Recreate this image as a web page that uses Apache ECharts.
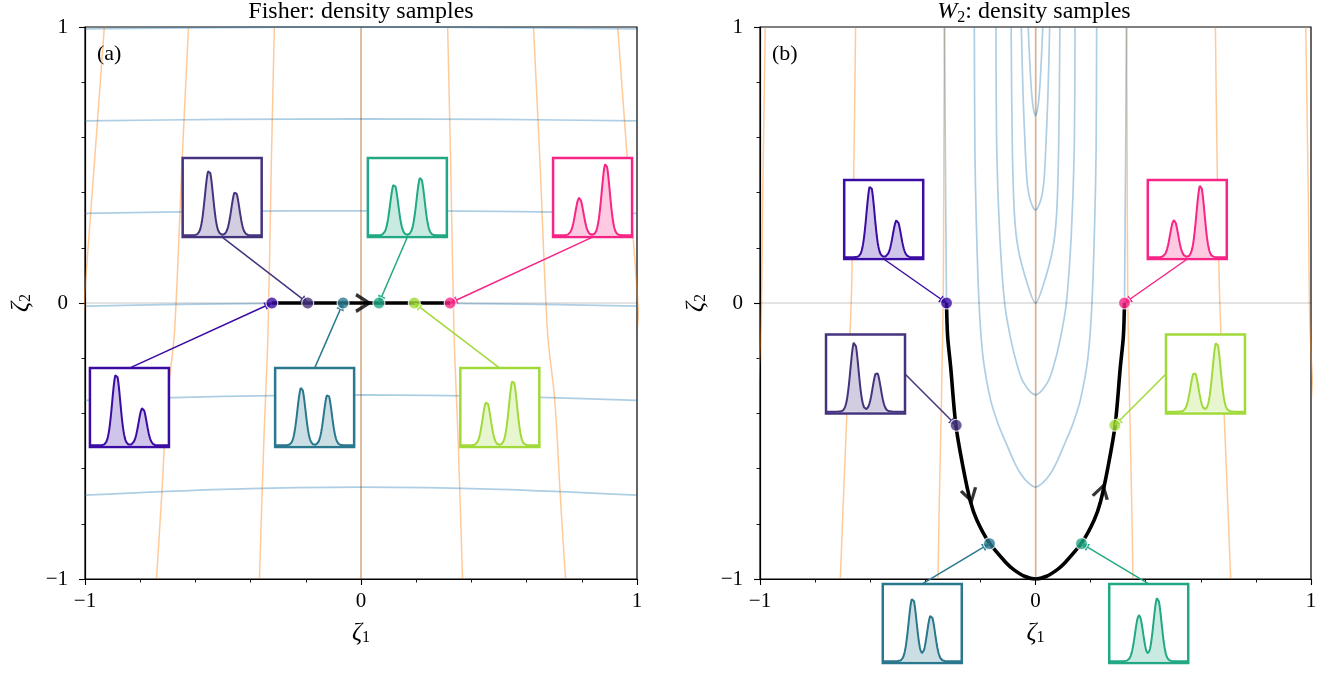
<!DOCTYPE html>
<html><head><meta charset="utf-8">
<script src="https://cdn.jsdelivr.net/npm/echarts@6/dist/echarts.min.js"></script>
<style>html,body{margin:0;padding:0;background:#fff}#c{width:1336px;height:673px}</style>
</head><body><div id="c"></div>
<script>
// ---------------- data ----------------
const tickLabels = ['\u22121', '0', '1'];
const sampleColors = ['#3a0ca3', '#46337e', '#2a788e', '#22a884', '#a0da39', '#f72585'];

// Fisher panel (a)
const fisherPointsX = [-0.323, -0.193, -0.065, 0.065, 0.193, 0.323];
const fisherPointsY = [0, 0, 0, 0, 0, 0];
const fisherPath = [[-0.323, 0], [0.323, 0]];
const fisherChevron = [[0.010, 0]];
const fisherOrange = [
  [[-0.930, 1], [-0.965, 0.52], [-1.0, 0.047], [-1.03, -0.4]],
  [[-0.625, 1], [-0.648, 0.52], [-0.676, -0.109], [-0.702, -0.351], [-0.722, -0.696], [-0.741, -1]],
  [[-0.314, 1], [-0.325, 0.5], [-0.337, -0.109], [-0.352, -0.5], [-0.368, -1]],
  [[0, 1], [0, -1]],
  [[0.314, 1], [0.325, 0.5], [0.337, -0.109], [0.352, -0.5], [0.368, -1]],
  [[0.625, 1], [0.648, 0.52], [0.676, -0.109], [0.702, -0.351], [0.722, -0.696], [0.741, -1]],
  [[0.930, 1], [0.965, 0.52], [1.0, 0.047], [1.03, -0.4]]
];
const fisherBlue = [
  [[-1, 0.993], [-0.5, 0.998], [0, 1.0], [0.5, 0.998], [1, 0.993]],
  [[-1, 0.660], [-0.5, 0.665], [0, 0.667], [0.5, 0.665], [1, 0.660]],
  [[-1, 0.325], [-0.5, 0.332], [0, 0.334], [0.5, 0.332], [1, 0.325]],
  [[-1, -0.011], [-0.5, -0.003], [0, 0.0], [0.5, -0.003], [1, -0.011]],
  [[-1, -0.353], [-0.5, -0.338], [0, -0.333], [0.5, -0.338], [1, -0.353]],
  [[-1, -0.696], [-0.5, -0.675], [0, -0.667], [0.5, -0.675], [1, -0.696]]
];
const fisherBoxX = [-0.839, -0.503, -0.168, 0.168, 0.503, 0.839];
const fisherBoxY = [-0.379, 0.382, -0.379, 0.382, -0.379, 0.382];
const fisherArrowFrom = ['top', 'bottom', 'top', 'bottom', 'top', 'bottom'];
const fisherInsetW = [0.657, 0.60, 0.53, 0.47, 0.40, 0.343];
const fisherInsetMeanA = [0.333, 0.333, 0.333, 0.333, 0.333, 0.333];
const fisherInsetMeanB = [0.667, 0.667, 0.667, 0.667, 0.667, 0.667];

// W2 panel (b)
const w2PointsX = [-0.323, -0.288, -0.167, 0.167, 0.288, 0.323];
const w2PointsY = [0, -0.443, -0.872, -0.872, -0.443, 0];
const w2Path = [[-0.323, 0], [-0.319, -0.12], [-0.308, -0.231], [-0.289, -0.443], [-0.262, -0.60],
  [-0.236, -0.72], [-0.213, -0.786], [-0.169, -0.867], [-0.105, -0.943], [-0.078, -0.967], [-0.04, -0.99],
  [0, -1], [0.04, -0.99], [0.078, -0.967], [0.105, -0.943], [0.169, -0.867], [0.213, -0.786], [0.236, -0.72],
  [0.262, -0.60], [0.289, -0.443], [0.308, -0.231], [0.319, -0.12], [0.323, 0]];
const w2Chevrons = [[-0.237, -0.70], [0.241, -0.68]];
const w2ChevronRotate = [195, -15];
const w2Orange = [
  [[-0.981, 1], [-0.99, 0.4], [-0.997, -0.109], [-1.02, -0.5]],
  [[-0.653, 1], [-0.66, 0.45], [-0.669, 0], [-0.693, -0.603], [-0.7085, -1]],
  [[-0.331, 1], [-0.333, 0.5], [-0.335, 0], [-0.349, -0.714], [-0.354, -1]],
  [[0, 1], [0, -1]],
  [[0.331, 1], [0.333, 0.5], [0.335, 0], [0.349, -0.714], [0.354, -1]],
  [[0.653, 1], [0.66, 0.45], [0.669, 0], [0.693, -0.603], [0.7085, -1]],
  [[0.981, 1], [0.99, 0.4], [0.997, -0.109], [1.02, -0.5]]
];
const w2Blue = [
  [[-0.0265, 1], [-0.018, 0.82], [-0.01, 0.72], [0, 0.68], [0.01, 0.72], [0.018, 0.82], [0.0265, 1]],
  [[-0.0515, 1], [-0.045, 0.75], [-0.037, 0.554], [-0.03, 0.434], [-0.018, 0.37], [0, 0.337],
   [0.018, 0.37], [0.03, 0.434], [0.037, 0.554], [0.045, 0.75], [0.0515, 1]],
  [[-0.0885, 1], [-0.084, 0.554], [-0.076, 0.313], [-0.062, 0.192], [-0.03, 0.071], [0, 0],
   [0.03, 0.071], [0.062, 0.192], [0.076, 0.313], [0.084, 0.554], [0.0885, 1]],
  [[-0.1435, 1], [-0.1405, 0.554], [-0.13, 0.25], [-0.112, 0], [-0.09, -0.13], [-0.065, -0.231], [-0.042, -0.291], [0, -0.333],
   [0.042, -0.291], [0.065, -0.231], [0.09, -0.13], [0.112, 0], [0.13, 0.25], [0.1405, 0.554], [0.1435, 1]],
  [[-0.222, 1], [-0.22, 0.554], [-0.215, 0.3], [-0.205, 0], [-0.19, -0.2], [-0.163, -0.351], [-0.135, -0.44], [-0.11, -0.5],
   [-0.08, -0.57], [-0.055, -0.617], [-0.028, -0.65], [0, -0.667], [0.028, -0.65], [0.055, -0.617], [0.08, -0.57],
   [0.11, -0.5], [0.135, -0.44], [0.163, -0.351], [0.19, -0.2], [0.205, 0], [0.215, 0.3], [0.22, 0.554], [0.222, 1]],
  [[-0.330, 1], [-0.327, 0.5], [-0.323, 0]],
  [[0.323, 0], [0.327, 0.5], [0.330, 1]]
];
const w2BoxX = [-0.551, -0.617, -0.411, 0.411, 0.617, 0.551];
const w2BoxY = [0.3025, -0.257, -1.161, -1.161, -0.257, 0.3025];
const w2ArrowFrom = ['bottom', 'right', 'top', 'top', 'left', 'bottom'];
const w2InsetW = [0.66, 0.64, 0.58, 0.42, 0.36, 0.34];
const w2InsetMeanA = [0.333, 0.36, 0.378, 0.378, 0.36, 0.333];
const w2InsetMeanB = [0.667, 0.641, 0.611, 0.611, 0.641, 0.667];
const insetSigma = 0.051;

// ---------------- layout ----------------
const SERIF = "'Liberation Serif', 'DejaVu Serif', serif";
const MAIN = [{left: 85, top: 27, width: 552, height: 552}, {left: 760, top: 27, width: 551, height: 552}];
const BOX = 79;
const BLUE = 'rgba(31,119,180,0.36)';
const ORANGE = 'rgba(255,127,14,0.42)';
const MARKER = 12;

function toPx(p, x, y) {
  const g = MAIN[p];
  return [g.left + (x + 1) / 2 * g.width, g.top + (1 - y) / 2 * g.height];
}
function fromPx(p, px, py) {
  const g = MAIN[p];
  return [(px - g.left) / g.width * 2 - 1, 1 - (py - g.top) / g.height * 2];
}
function alpha(hex, a) {
  const n = parseInt(hex.slice(1), 16);
  return 'rgba(' + (n >> 16 & 255) + ',' + (n >> 8 & 255) + ',' + (n & 255) + ',' + a + ')';
}

const grids = [], xAxes = [], yAxes = [], series = [];

function mainAxis(p, isX) {
  return {
    type: 'value', gridIndex: p, min: -1, max: 1, interval: 1,
    axisLine: {show: true, onZero: false, lineStyle: {color: '#000', width: 1.2}},
    axisTick: {show: true, length: 6, lineStyle: {color: '#000', width: 1.1}},
    minorTick: {show: true, splitNumber: 5, length: 3.5, lineStyle: {color: '#000', width: 0.9}},
    splitLine: {show: false}, minorSplitLine: {show: false},
    axisLabel: {
      formatter: v => tickLabels[Math.round(v) + 1], color: '#000',
      fontFamily: SERIF, fontSize: 21, margin: isX ? 12 : 17
    },
    name: isX ? '{z|\u03b6}{s|1}' : '{z|\u03b6}{s|2}',
    nameLocation: 'middle', nameGap: isX ? 41 : 51, nameRotate: isX ? 0 : 90,
    nameTextStyle: {color: '#000', fontFamily: SERIF, fontSize: 21,
      rich: {
        z: {fontStyle: 'italic', fontFamily: SERIF, fontSize: 25, lineHeight: 26, color: '#000'},
        s: {fontFamily: SERIF, fontSize: 16, lineHeight: 19, verticalAlign: 'bottom', color: '#000'}
      }}
  };
}

function addLines(p, list, color, width) {
  list.forEach(pts => series.push({
    type: 'line', xAxisIndex: p, yAxisIndex: p, data: pts, symbol: 'none', showSymbol: false,
    smooth: 0.3, silent: true, z: 1, lineStyle: {color: color, width: width}
  }));
}

const panels = [
  {px: fisherPointsX, py: fisherPointsY, path: fisherPath, orange: fisherOrange, blue: fisherBlue,
   bx: fisherBoxX, by: fisherBoxY, from: fisherArrowFrom, w: fisherInsetW, ma: fisherInsetMeanA, mb: fisherInsetMeanB,
   chev: fisherChevron, chevRot: [-90], chevSize: [20, 17]},
  {px: w2PointsX, py: w2PointsY, path: w2Path, orange: w2Orange, blue: w2Blue,
   bx: w2BoxX, by: w2BoxY, from: w2ArrowFrom, w: w2InsetW, ma: w2InsetMeanA, mb: w2InsetMeanB,
   chev: w2Chevrons, chevRot: w2ChevronRotate, chevSize: [18, 16]}
];

panels.forEach((P, p) => {
  grids.push(Object.assign({show: true, borderColor: '#000', borderWidth: 1.2, containLabel: false}, MAIN[p]));
  xAxes.push(mainAxis(p, true));
  yAxes.push(mainAxis(p, false));
});

panels.forEach((P, p) => {
  addLines(p, P.orange, ORANGE, 1.5);
  addLines(p, P.blue, BLUE, 1.7);
  // zero reference lines
  series.push({
    type: 'line', xAxisIndex: p, yAxisIndex: p, data: [[0, 0]], symbol: 'none', silent: true, z: 1,
    lineStyle: {opacity: 0},
    markLine: {silent: true, symbol: 'none', label: {show: false}, animation: false,
      lineStyle: {color: 'rgba(0,0,0,0.15)', width: 1.6, type: 'solid'},
      data: [{xAxis: 0}, {yAxis: 0}]}
  });
  // path
  series.push({
    type: 'line', xAxisIndex: p, yAxisIndex: p, data: P.path, symbol: 'none', smooth: 0.3, silent: true, z: 5,
    lineStyle: {color: '#000', width: 3.6}
  });
  // chevrons (open arrowheads on the path)
  series.push({
    type: 'scatter', xAxisIndex: p, yAxisIndex: p, silent: true, z: 5,
    symbol: 'path://M0,15 L8.3,0 L16.6,15 L13.8,16.4 L8.3,6 L2.8,16.4 Z', symbolSize: P.chevSize,
    data: P.chev.map((c, i) => ({value: c, symbolRotate: P.chevRot[i]})),
    itemStyle: {color: '#000'}
  });
  // arrows from boxes to sample points
  const arrowData = P.px.map((x, i) => {
    const c = toPx(p, P.bx[i], P.by[i]);
    let sx = c[0], sy = c[1];
    if (P.from[i] === 'top') sy -= BOX / 2;
    else if (P.from[i] === 'bottom') sy += BOX / 2;
    else if (P.from[i] === 'left') sx -= BOX / 2;
    else sx += BOX / 2;
    const e = toPx(p, x, P.py[i]);
    const dx = e[0] - sx, dy = e[1] - sy, L = Math.hypot(dx, dy), shrink = 3.5;
    const ex = e[0] - dx / L * shrink, ey = e[1] - dy / L * shrink;
    return {coords: [fromPx(p, sx, sy), fromPx(p, ex, ey)], lineStyle: {color: sampleColors[i]}};
  });
  series.push({
    type: 'lines', coordinateSystem: 'cartesian2d', xAxisIndex: p, yAxisIndex: p, clip: false,
    silent: true, z: 6, symbol: ['none', 'triangle'], symbolSize: 8,
    lineStyle: {width: 1.5, opacity: 1}, data: arrowData
  });
  // sample points
  series.push({
    type: 'scatter', xAxisIndex: p, yAxisIndex: p, silent: true, z: 7, symbolSize: MARKER,
    data: P.px.map((x, i) => ({value: [x, P.py[i]], itemStyle: {color: sampleColors[i]}})),
    itemStyle: {borderColor: '#fff', borderWidth: 1.2}
  });
});

// insets: mixture densities
const xs = [];
for (let i = 0; i <= 240; i++) xs.push(i / 240);
const yPxPerUnit = 72 / (0.657 / (insetSigma * Math.sqrt(2 * Math.PI)));
const insetYMin = -1.8 / yPxPerUnit, insetYMax = insetYMin + BOX / yPxPerUnit;
panels.forEach((P, p) => {
  P.bx.forEach((bx, i) => {
    const c = toPx(p, bx, P.by[i]);
    const gi = grids.length;
    grids.push({show: true, left: c[0] - BOX / 2, top: c[1] - BOX / 2, width: BOX, height: BOX,
      borderColor: sampleColors[i], borderWidth: 2.5, backgroundColor: '#fff', z: 10});
    xAxes.push({type: 'value', gridIndex: gi, min: 0, max: 1, show: false});
    yAxes.push({type: 'value', gridIndex: gi, min: insetYMin, max: insetYMax, show: false});
    const w = P.w[i], ma = P.ma[i], mb = P.mb[i], s = insetSigma;
    const norm = 1 / (s * Math.sqrt(2 * Math.PI));
    const dens = xs.map(x => [x,
      w * norm * Math.exp(-0.5 * ((x - ma) / s) ** 2) + (1 - w) * norm * Math.exp(-0.5 * ((x - mb) / s) ** 2)]);
    series.push({
      type: 'line', xAxisIndex: gi, yAxisIndex: gi, data: dens, symbol: 'none', silent: true, z: 11,
      lineStyle: {color: sampleColors[i], width: 2}, areaStyle: {color: alpha(sampleColors[i], 0.35)}
    });
  });
});

const titleRich = {
  i: {fontStyle: 'italic', fontFamily: SERIF, fontSize: 24, lineHeight: 28, fill: '#000'},
  s: {fontFamily: SERIF, fontSize: 16, lineHeight: 18, verticalAlign: 'bottom', fill: '#000'},
  t: {fontFamily: SERIF, fontSize: 24, lineHeight: 28, fill: '#000'}
};

const chart = echarts.init(document.getElementById('c'), null, {renderer: 'canvas'});
chart.setOption({
  animation: false,
  backgroundColor: '#fff',
  grid: grids, xAxis: xAxes, yAxis: yAxes, series: series,
  graphic: [
    {type: 'text', x: 361, y: -2, style: {text: '{t|Fisher: density samples}', font: '24px ' + SERIF, fill: '#000',
      align: 'center', verticalAlign: 'top', rich: titleRich}},
    {type: 'text', x: 1034, y: -2, style: {text: '{i|W}{s|2}{t|: density samples}', font: '24px ' + SERIF, fill: '#000',
      align: 'center', verticalAlign: 'top', rich: titleRich}},
    {type: 'text', x: 97, y: 54, style: {text: '(a)', font: '22px ' + SERIF, fill: '#000', align: 'left', verticalAlign: 'middle'}},
    {type: 'text', x: 772, y: 54, style: {text: '(b)', font: '22px ' + SERIF, fill: '#000', align: 'left', verticalAlign: 'middle'}}
  ]
});
</script></body></html>
